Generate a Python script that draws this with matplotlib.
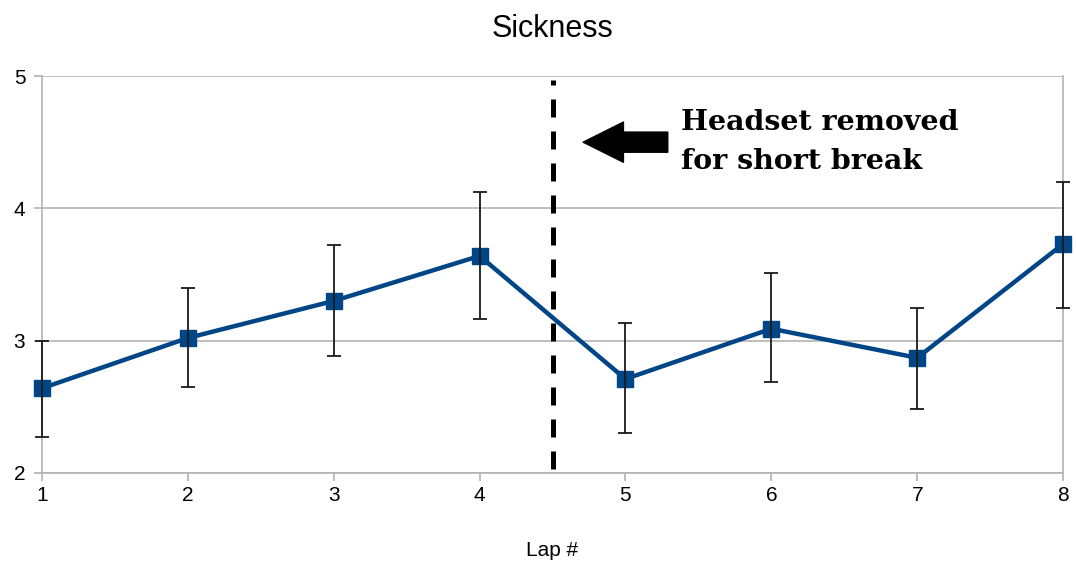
import matplotlib
matplotlib.use("Agg")
import matplotlib.pyplot as plt

# lap numbers and mean sickness score with error
laps = [1, 2, 3, 4, 5, 6, 7, 8]
sickness = [2.64, 3.02, 3.30, 3.64, 2.71, 3.09, 2.87, 3.73]
err_low = [0.37, 0.37, 0.42, 0.48, 0.41, 0.40, 0.39, 0.48]
err_high = [0.36, 0.38, 0.42, 0.48, 0.42, 0.42, 0.38, 0.47]
break_at = 4.5

blue = "#004586"
grey = "#b3b3b3"

plt.rcParams['font.family'] = ['Liberation Sans', 'DejaVu Sans']

fig = plt.figure(figsize=(10.76, 5.61), dpi=100)
ax = fig.add_axes([0.039, 0.157, 0.949, 0.7075])

ax.plot(laps, sickness, color=blue, lw=3.2, marker='s', markersize=12,
        zorder=3, clip_on=False)
eb = ax.errorbar(laps, sickness, yerr=[err_low, err_high], fmt='none',
                 ecolor='#1a1a1a', elinewidth=1.3, capsize=5, capthick=1.3,
                 zorder=4)
for art in eb.lines[1] + eb.lines[2]:
    art.set_clip_on(False)

# break marker
ax.axvline(break_at, ymin=0.01, ymax=0.99, color='black', lw=3.6,
           linestyle=(0, (3.6, 2.8)), zorder=5)
ax.annotate('', xy=(4.71, 4.5), xytext=(5.29, 4.5),
            arrowprops=dict(arrowstyle='simple,head_length=2.9,head_width=2.9,tail_width=1.45',
                            mutation_scale=10, color='black', shrinkA=0, shrinkB=0))
ax.text(5.38, 4.5, 'Headset removed\nfor short break', fontfamily='DejaVu Serif',
        fontweight='bold', fontsize=20.5, va='center', ha='left', linespacing=1.55)

ax.set_xlim(1, 8)
ax.set_ylim(2, 5)
ax.set_xticks(laps)
ax.set_yticks([2, 3, 4, 5])
ax.yaxis.grid(True, color=grey, lw=1.2)
ax.set_axisbelow(True)
for s in ['left', 'right', 'bottom']:
    ax.spines[s].set_color(grey)
    ax.spines[s].set_linewidth(1.2)
ax.spines['top'].set_visible(False)
ax.tick_params(colors=grey, labelcolor='black', labelsize=15, length=6, width=1.2)
ax.tick_params(axis='y', pad=6)

ax.set_title('Sickness', fontsize=22, pad=28)
ax.set_xlabel('Lap #', fontsize=15, labelpad=26)

fig.savefig('out.png', dpi=100)
